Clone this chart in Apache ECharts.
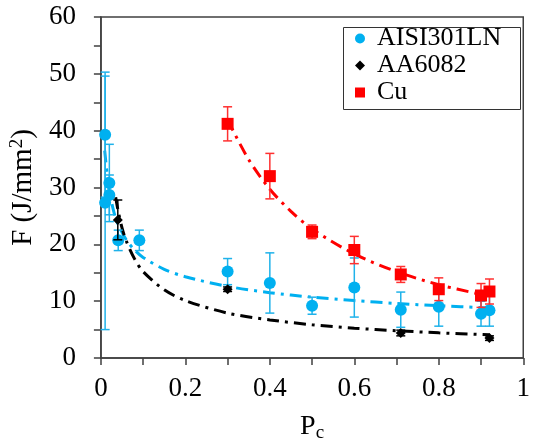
<!DOCTYPE html>
<html>
<head>
<meta charset="utf-8">
<script src="https://cdn.jsdelivr.net/npm/echarts@6.0.0/dist/echarts.min.js"></script>
<style>
  html, body { margin: 0; padding: 0; background: #fff; }
  #chart { width: 533px; height: 448px; }
</style>
</head>
<body>
<div id="chart"></div>
<script>
const chart = echarts.init(document.getElementById('chart'));
const FONT = 'Liberation Serif';

// AISI301LN
const pcA = [0.010, 0.020, 0.020, 0.010, 0.041, 0.091, 0.30, 0.40, 0.50, 0.60, 0.71, 0.80, 0.90, 0.92];
const fA = [39.3, 30.8, 28.7, 27.3, 20.7, 20.7, 15.2, 13.2, 9.2, 12.4, 8.5, 9.0, 7.8, 8.4];
const errA = [11.0, 6.8, 3.5, 22.3, 1.8, 1.8, 2.3, 5.3, 1.5, 5.2, 3.1, 3.4, 2.2, 2.8];
// AA6082
const pcB = [0.040, 0.30, 0.71, 0.92];
const fB = [24.3, 12.1, 4.4, 3.5];
const errB = [3.5, 0.4, 0.5, 0.4];
// Cu
const pcC = [0.30, 0.40, 0.50, 0.60, 0.71, 0.80, 0.90, 0.92];
const fC = [41.2, 32.0, 22.2, 19.0, 14.7, 12.1, 11.0, 11.7];
const errC = [3.0, 4.0, 1.2, 2.4, 1.4, 2.0, 2.1, 2.2];

// trend lines
const trendAx = [0.009, 0.015, 0.02, 0.03, 0.04, 0.06, 0.08, 0.1, 0.15, 0.2, 0.3, 0.4, 0.5, 0.6, 0.7, 0.8, 0.92];
const trendAy = [36.5, 32.2, 29.4, 25.9, 23.6, 20.8, 19.0, 17.7, 15.6, 14.3, 12.6, 11.5, 10.7, 10.1, 9.6, 9.2, 8.8];
const trendBx = [0.035, 0.04, 0.05, 0.06, 0.08, 0.1, 0.15, 0.2, 0.3, 0.4, 0.5, 0.6, 0.7, 0.8, 0.92];
const trendBy = [28.3, 26.2, 22.9, 20.6, 17.4, 15.2, 12.0, 10.1, 7.9, 6.7, 5.85, 5.25, 4.8, 4.43, 4.08];
const trendCx = [0.30, 0.35, 0.40, 0.45, 0.50, 0.60, 0.70, 0.80, 0.90];
const trendCy = [41.9, 34.9, 29.7, 25.8, 22.7, 18.3, 15.2, 12.9, 11.2];

const BLUE = '#00b0f0';
const RED = '#ff0000';
const BLACK = '#000000';

const zip = (...cols) => cols[0].map((_, i) => cols.map(c => c[i]));

function errBar(color) {
  return (params, api) => {
    const x = api.value(0), y = api.value(1), e = api.value(2);
    const top = api.coord([x, y + e]);
    const bot = api.coord([x, y - e]);
    const hw = 4.5;
    const style = { stroke: color, lineWidth: 1.5 };
    return {
      type: 'group',
      children: [
        { type: 'line', shape: { x1: top[0], y1: top[1], x2: bot[0], y2: bot[1] }, style },
        { type: 'line', shape: { x1: top[0] - hw, y1: top[1], x2: top[0] + hw, y2: top[1] }, style },
        { type: 'line', shape: { x1: bot[0] - hw, y1: bot[1], x2: bot[0] + hw, y2: bot[1] }, style }
      ]
    };
  };
}

function trend(name, xs, ys, color) {
  return {
    name: name + ' fit', type: 'line', data: zip(xs, ys), smooth: 0.3,
    showSymbol: false, symbol: 'none', silent: true, z: 1,
    lineStyle: { color, width: 3, type: [12, 6, 3, 6], cap: 'butt' }
  };
}

function errSeries(name, xs, ys, es, color, z) {
  return {
    name: name + ' err', type: 'custom', renderItem: errBar(color),
    data: zip(xs, ys, es), encode: { x: 0, y: 1 }, z, silent: true
  };
}

const axisText = { fontFamily: FONT, fontSize: 27, color: '#000' };
const axisColor = '#404040';

chart.setOption({
  animation: false,
  grid: { left: 99, right: 8, top: 17, bottom: 87, show: true, borderColor: axisColor, borderWidth: 1.5 },
  // legend frame
  graphic: [{
    type: 'rect', left: 341, top: 25, z: 10, silent: true,
    shape: { width: 177, height: 82 },
    style: { fill: null, stroke: '#333', lineWidth: 1 }
  }],
  legend: {
    orient: 'vertical', left: 341, top: 25, itemGap: 0,
    padding: [0, 8, 0, 14], borderWidth: 0,
    itemWidth: 10, itemHeight: 10,
    textStyle: { fontFamily: FONT, fontSize: 26, color: '#000', lineHeight: 27, padding: [0, 0, 0, 7] },
    data: [
      { name: 'AISI301LN', icon: 'circle', itemStyle: { color: BLUE } },
      { name: 'AA6082', icon: 'diamond', itemStyle: { color: BLACK } },
      { name: 'Cu', icon: 'rect', itemStyle: { color: RED } }
    ]
  },
  xAxis: {
    type: 'value', min: 0, max: 1, interval: 0.2,
    name: '{p|P}{s|c}', nameLocation: 'middle', nameGap: 52,
    nameTextStyle: { rich: { p: { ...axisText, fontSize: 28 }, s: { ...axisText, fontSize: 19, verticalAlign: 'bottom', padding: [14, 0, 0, 0] } } },
    axisLine: { lineStyle: { color: axisColor, width: 1.5 } },
    axisTick: { inside: false, length: 7, lineStyle: { color: axisColor, width: 1.5 } },
    minorTick: { show: true, splitNumber: 2, length: 7, lineStyle: { color: axisColor, width: 1.5 } },
    axisLabel: { ...axisText, margin: 17, formatter: v => String(+v.toFixed(1)) },
    splitLine: { show: false }
  },
  yAxis: {
    type: 'value', min: 0, max: 60, interval: 10,
    name: '{t|F (J/mm}{s|2}{t|)}', nameLocation: 'middle', nameGap: 60,
    nameTextStyle: { rich: { t: { ...axisText, fontSize: 29 }, s: { ...axisText, fontSize: 19, verticalAlign: 'top', padding: [0, 0, 12, 0] } } },
    axisLine: { show: true, lineStyle: { color: axisColor, width: 1.5 } },
    axisTick: { show: true, inside: false, length: 7, lineStyle: { color: axisColor, width: 1.5 } },
    minorTick: { show: true, splitNumber: 2, length: 7, lineStyle: { color: axisColor, width: 1.5 } },
    axisLabel: { ...axisText, margin: 25 },
    splitLine: { show: false }
  },
  series: [
    trend('AISI301LN', trendAx, trendAy, BLUE),
    trend('AA6082', trendBx, trendBy, BLACK),
    trend('Cu', trendCx, trendCy, RED),
    errSeries('AISI301LN', pcA, fA, errA, '#1fb2ea', 2),
    { name: 'AISI301LN', type: 'scatter', data: zip(pcA, fA), symbol: 'circle', symbolSize: 12,
      itemStyle: { color: BLUE, opacity: 1 }, z: 3 },
    errSeries('AA6082', pcB, fB, errB, BLACK, 4),
    { name: 'AA6082', type: 'scatter', data: zip(pcB, fB), symbol: 'diamond', symbolSize: 10,
      itemStyle: { color: BLACK, opacity: 1 }, z: 5 },
    errSeries('Cu', pcC, fC, errC, '#ff3030', 6),
    { name: 'Cu', type: 'scatter', data: zip(pcC, fC), symbol: 'rect', symbolSize: 12,
      itemStyle: { color: RED, opacity: 1 }, z: 7 }
  ]
});
window.addEventListener('resize', () => chart.resize());
</script>
</body>
</html>
